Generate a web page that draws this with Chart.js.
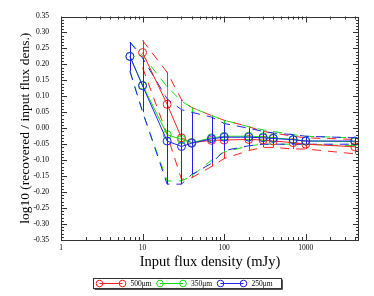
<!DOCTYPE html>
<html>
<head>
<meta charset="utf-8">
<script src="https://cdn.jsdelivr.net/npm/chart.js@4"></script>
<style>
  html, body { margin: 0; padding: 0; background: #fff; }
  #wrap { width: 374px; height: 296px; }
</style>
</head>
<body>
<div id="wrap"><canvas id="chart"></canvas></div>
<script>
// Input flux densities (mJy)
const fluxIn = [7, 10, 20, 30, 40, 70, 100, 200, 300, 400, 700, 1000, 4000];

// 500 micron
const mean500 = [null, 0.237, 0.075, -0.030, -0.045, -0.038, -0.037, -0.035, -0.037, -0.040, -0.045, -0.050, -0.058];
const upper500 = [null, 0.275, 0.175, 0.090, 0.065, 0.040, 0.025, 0.005, -0.010, -0.015, -0.025, -0.030, -0.035];
const lower500 = [null, 0.190, -0.020, -0.160, -0.155, -0.120, -0.095, -0.070, -0.060, -0.060, -0.065, -0.065, -0.080];

// 350 micron
const mean350 = [0.225, 0.135, -0.020, -0.035, -0.045, -0.030, -0.025, -0.025, -0.027, -0.030, -0.035, -0.040, -0.042];
const upper350 = [0.270, 0.228, 0.130, 0.085, 0.065, 0.040, 0.025, 0.005, -0.005, -0.010, -0.020, -0.025, -0.030];
const lower350 = [0.180, 0.050, -0.165, -0.165, -0.150, -0.100, -0.075, -0.055, -0.050, -0.050, -0.050, -0.050, -0.055];

// 250 micron
const mean250 = [0.225, 0.133, -0.040, -0.057, -0.047, -0.033, -0.028, -0.028, -0.030, -0.032, -0.036, -0.040, -0.040];
const upper250 = [0.270, 0.220, 0.092, 0.058, 0.050, 0.035, 0.015, 0.000, -0.010, -0.015, -0.020, -0.025, -0.030];
const lower250 = [0.178, 0.052, -0.175, -0.175, -0.145, -0.110, -0.070, -0.055, -0.050, -0.050, -0.050, -0.050, -0.050];

const seriesLabels = ['500\u03bcm', '350\u03bcm', '250\u03bcm'];
const seriesColors = ['#ff2020', '#10e010', '#2020f0'];
const xTickValues = [1, 10, 100, 1000];

const serif = '"Liberation Serif", "DejaVu Serif", serif';

function pts(vals) {
  return fluxIn.map((x, i) => ({ x: x, y: vals[i] })).filter(p => p.y !== null);
}

const series = [
  { mean: mean500, upper: upper500, lower: lower500 },
  { mean: mean350, upper: upper350, lower: lower350 },
  { mean: mean250, upper: upper250, lower: lower250 }
];

const datasets = [];
series.forEach((s, k) => {
  const c = seriesColors[k];
  datasets.push({
    label: seriesLabels[k],
    data: pts(s.mean),
    borderColor: c,
    borderWidth: 1,
    pointRadius: 4,
    pointBorderWidth: 1,
    pointBorderColor: c,
    pointBackgroundColor: 'rgba(0,0,0,0)',
    fill: false,
    tension: 0,
    order: 3 - k
  });
  [s.upper, s.lower].forEach(b => {
    datasets.push({
      label: seriesLabels[k] + ' bound',
      data: pts(b),
      borderColor: c,
      borderWidth: 1,
      borderDash: [9, 7],
      pointRadius: 0,
      fill: false,
      tension: 0,
      order: 6 - k
    });
  });
});

// vertical bars between the dashed bounds
const errorBars = {
  id: 'errorBars',
  afterDatasetsDraw(chart) {
    const { ctx, chartArea: a, scales: { x, y } } = chart;
    ctx.save();
    ctx.beginPath();
    ctx.rect(a.left, a.top, a.width, a.height);
    ctx.clip();
    ctx.lineWidth = 1;
    series.forEach((s, k) => {
      ctx.strokeStyle = seriesColors[k];
      ctx.beginPath();
      fluxIn.forEach((f, i) => {
        if (s.mean[i] === null) return;
        const px = Math.round(x.getPixelForValue(f)) + 0.5;
        ctx.moveTo(px, y.getPixelForValue(s.upper[i]));
        ctx.lineTo(px, y.getPixelForValue(s.lower[i]));
      });
      ctx.stroke();
    });
    ctx.restore();
  }
};

// frame with inward ticks on all four sides
const frameTicks = {
  id: 'frameTicks',
  afterDraw(chart) {
    const { ctx, chartArea: a, scales: { x, y } } = chart;
    ctx.save();
    ctx.strokeStyle = '#333';
    ctx.lineWidth = 1;
    ctx.beginPath();
    for (let i = -35; i <= 35; i++) {
      const py = Math.round(y.getPixelForValue(i / 100)) + 0.5;
      const len = i % 5 === 0 ? 6 : 3;
      ctx.moveTo(a.left, py); ctx.lineTo(a.left + len, py);
      ctx.moveTo(a.right, py); ctx.lineTo(a.right - len, py);
    }
    for (let d = 1; d <= x.max; d *= 10) {
      for (let m = 1; m < 10; m++) {
        const v = d * m;
        if (v > x.max) break;
        const px = Math.round(x.getPixelForValue(v)) + 0.5;
        const len = m === 1 ? 6 : 3;
        ctx.moveTo(px, a.bottom); ctx.lineTo(px, a.bottom - len);
        ctx.moveTo(px, a.top); ctx.lineTo(px, a.top + len);
      }
    }
    ctx.stroke();
    ctx.strokeRect(Math.round(a.left) + 0.5, Math.round(a.top) + 0.5,
                   Math.round(a.width) - 1, Math.round(a.height) - 1);
    ctx.restore();
  }
};

// legend: line with a circle at each end, then the label
const boxLegend = {
  id: 'boxLegend',
  afterDraw(chart) {
    const ctx = chart.ctx;
    const w = 188, h = 10;
    const left = Math.round(chart.width / 2 - w / 2) + 0.5;
    const top = 278.5;
    ctx.save();
    ctx.fillStyle = '#555';
    ctx.fillRect(left + w, top + 1, 1.5, h);
    ctx.fillRect(left + 1, top + h, w, 1.5);
    ctx.strokeStyle = '#333';
    ctx.lineWidth = 1;
    ctx.strokeRect(left, top, w, h);
    ctx.font = '7.5px ' + serif;
    ctx.textBaseline = 'middle';
    ctx.fillStyle = '#000';
    seriesLabels.forEach((lab, k) => {
      const x0 = left + 6 + k * 60.5;
      const cy = top + h / 2;
      ctx.strokeStyle = seriesColors[k];
      ctx.beginPath();
      ctx.moveTo(x0, cy); ctx.lineTo(x0 + 23, cy);
      ctx.stroke();
      [x0, x0 + 23].forEach(cx => {
        ctx.beginPath();
        ctx.arc(cx, cy, 3.3, 0, Math.PI * 2);
        ctx.stroke();
      });
      ctx.fillText(lab, x0 + 31, cy + 0.5);
    });
    ctx.restore();
  }
};

new Chart(document.getElementById('chart'), {
  type: 'line',
  data: { datasets: datasets },
  options: {
    responsive: true,
    maintainAspectRatio: false,
    animation: false,
    layout: { padding: { top: 14, right: 15, left: 0, bottom: 0 } },
    plugins: {
      legend: { display: false },
      tooltip: { enabled: false }
    },
    scales: {
      x: {
        type: 'logarithmic',
        min: 1,
        max: 4500,
        afterBuildTicks: s => { s.ticks = xTickValues.map(v => ({ value: v })); },
        afterFit: s => { s.height = 56; },
        grid: { display: false, drawTicks: false },
        border: { display: false },
        ticks: {
          autoSkip: false,
          maxRotation: 0,
          padding: 4,
          color: '#000',
          font: { family: serif, size: 7.5 },
          callback: v => String(v)
        },
        title: {
          display: true,
          text: 'Input flux density (mJy)',
          color: '#000',
          font: { family: serif, size: 14.5 },
          padding: { top: 0, bottom: 25 }
        }
      },
      y: {
        min: -0.35,
        max: 0.35,
        afterFit: s => { s.width = 61; },
        grid: { display: false, drawTicks: false },
        border: { display: false },
        ticks: {
          stepSize: 0.05,
          padding: 12,
          color: '#000',
          font: { family: serif, size: 7.5 },
          callback: v => v.toFixed(2)
        },
        title: {
          display: true,
          text: 'log10 (recovered / input flux dens.)',
          color: '#000',
          font: { family: serif, size: 13.5 },
          padding: { top: 17, bottom: 0 }
        }
      }
    }
  },
  plugins: [errorBars, frameTicks, boxLegend]
});
</script>
</body>
</html>
